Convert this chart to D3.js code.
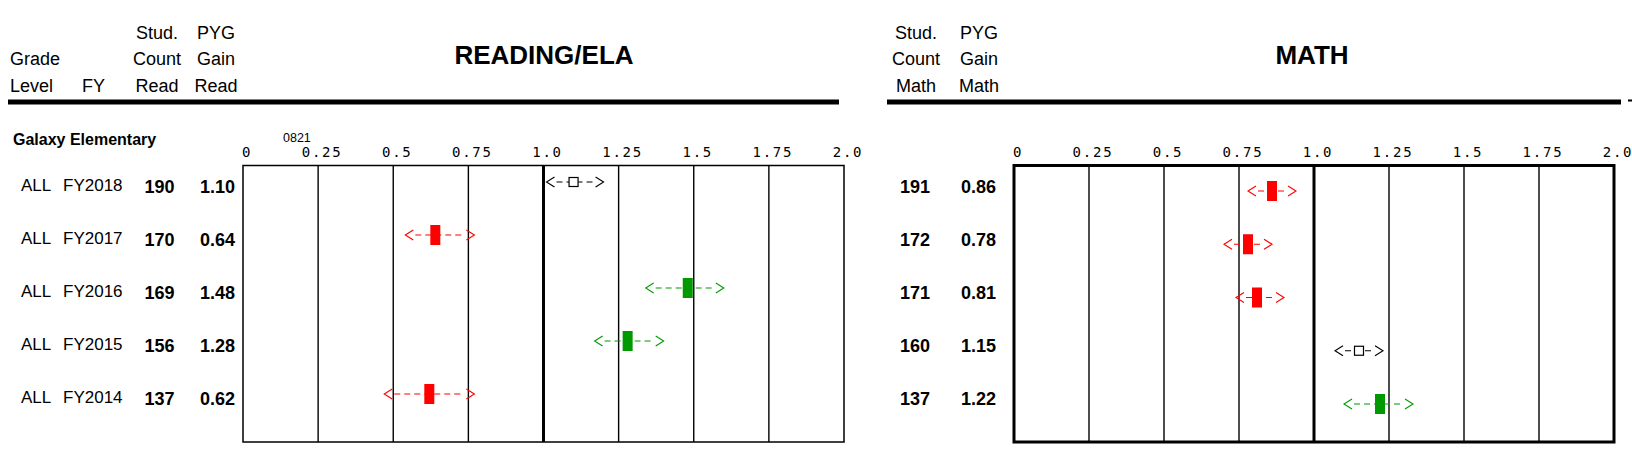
<!DOCTYPE html>
<html>
<head>
<meta charset="utf-8">
<script src="https://cdn.jsdelivr.net/npm/d3@7"></script>
<style>
  html, body { margin: 0; padding: 0; background: #fff; }
  svg { display: block; }
  text { font-family: "Liberation Sans", Arial, sans-serif; fill: #000; }
  .tick-label { font-family: "DejaVu Sans Mono", monospace; font-size: 14px; letter-spacing: 1.8px; }
</style>
</head>
<body>
<svg id="chart" width="1632" height="472"></svg>
<script>
// ---------- data ----------
const schoolName = "Galaxy Elementary";
const schoolCode = "0821";
const gradeLevels = ["ALL", "ALL", "ALL", "ALL", "ALL"];
const fiscalYears = ["FY2018", "FY2017", "FY2016", "FY2015", "FY2014"];

const readCounts = [190, 170, 169, 156, 137];
const readGain   = [1.10, 0.64, 1.48, 1.28, 0.62];
const readLow    = [1.01, 0.54, 1.34, 1.17, 0.47];
const readHigh   = [1.20, 0.77, 1.60, 1.40, 0.77];
const readStatus = ["neutral", "below", "above", "above", "below"];

const mathCounts = [191, 172, 171, 160, 137];
const mathGain   = [0.86, 0.78, 0.81, 1.15, 1.22];
const mathLow    = [0.78, 0.70, 0.74, 1.07, 1.10];
const mathHigh   = [0.94, 0.86, 0.90, 1.23, 1.33];
const mathStatus = ["below", "below", "below", "neutral", "above"];

const tickValues = [0, 0.25, 0.5, 0.75, 1.0, 1.25, 1.5, 1.75, 2.0];
const tickLabels = ["0", "0.25", "0.5", "0.75", "1.0", "1.25", "1.5", "1.75", "2.0"];

const statusColor = { below: "#ff0000", above: "#009900", neutral: "#000000" };

// ---------- layout ----------
const svg = d3.select("#chart");

const xRead = d3.scaleLinear().domain([0, 2]).range([243, 844]);
const xMath = d3.scaleLinear().domain([0, 2]).range([1014, 1614]);
const yReadMark = d3.scalePoint().domain(fiscalYears).range([182, 394]);
const yMathMark = d3.scalePoint().domain(fiscalYears).range([191, 404]);
const yText = d3.scalePoint().domain(fiscalYears).range([191, 403]);

// ---------- header ----------
function headerLines(x, lines, anchor) {
  const ys = [39, 65, 92];
  lines.forEach((t, i) => {
    if (!t) return;
    svg.append("text").attr("x", x).attr("y", ys[i + (3 - lines.length)])
      .attr("text-anchor", anchor).style("font-size", "18px").text(t);
  });
}
headerLines(10, ["Grade", "Level"], "start");
headerLines(82, ["FY"], "start");
headerLines(157, ["Stud.", "Count", "Read"], "middle");
headerLines(216, ["PYG", "Gain", "Read"], "middle");
headerLines(916, ["Stud.", "Count", "Math"], "middle");
headerLines(979, ["PYG", "Gain", "Math"], "middle");

svg.append("text").attr("x", 544).attr("y", 64).attr("text-anchor", "middle")
  .style("font-size", "26px").style("font-weight", "bold").text("READING/ELA");
svg.append("text").attr("x", 1312).attr("y", 64).attr("text-anchor", "middle")
  .style("font-size", "26px").style("font-weight", "bold").text("MATH");

svg.append("rect").attr("x", 8).attr("y", 99.5).attr("width", 831).attr("height", 5).attr("fill", "#000");
svg.append("rect").attr("x", 887).attr("y", 99.5).attr("width", 734).attr("height", 5).attr("fill", "#000");
svg.append("rect").attr("x", 1628).attr("y", 99.5).attr("width", 4).attr("height", 2).attr("fill", "#000");

svg.append("text").attr("x", 13).attr("y", 145).style("font-size", "16px")
  .style("font-weight", "bold").text(schoolName);
svg.append("text").attr("x", 283).attr("y", 142).style("font-size", "12.5px").text(schoolCode);

// ---------- panels ----------
function drawPanel(x, yMark, borderW, gain, low, high, status) {
  const g = svg.append("g");
  const top = 165.5, bottom = 442;
  // tick labels
  g.selectAll("text.tick-label").data(tickValues).join("text")
    .attr("class", "tick-label")
    .attr("x", d => x(d) + 4).attr("y", 156.5)
    .attr("text-anchor", "middle")
    .text((d, i) => tickLabels[i]);
  // grid lines
  g.selectAll("line.grid").data(tickValues.slice(1, -1)).join("line")
    .attr("class", "grid")
    .attr("x1", d => x(d)).attr("x2", d => x(d))
    .attr("y1", top).attr("y2", bottom)
    .attr("stroke", "#000")
    .attr("stroke-width", d => d === 1 ? 3 : 1.4);
  // frame
  g.append("rect")
    .attr("x", x(0)).attr("y", top)
    .attr("width", x(2) - x(0)).attr("height", bottom - top)
    .attr("fill", "none").attr("stroke", "#000").attr("stroke-width", borderW);

  // markers
  fiscalYears.forEach((fy, i) => {
    const y = yMark(fy);
    const c = statusColor[status[i]];
    const xl = x(low[i]), xh = x(high[i]), xv = x(gain[i]);
    const m = g.append("g");
    m.append("line").attr("x1", xl + 10).attr("x2", xh - 10)
      .attr("y1", y).attr("y2", y)
      .attr("stroke", c).attr("stroke-width", 1.2).attr("stroke-dasharray", "6,4");
    m.append("path").attr("d", `M${xl + 8},${y - 5}L${xl},${y}L${xl + 8},${y + 5}`)
      .attr("fill", "none").attr("stroke", c).attr("stroke-width", 1.1);
    m.append("path").attr("d", `M${xh - 8},${y - 5}L${xh},${y}L${xh - 8},${y + 5}`)
      .attr("fill", "none").attr("stroke", c).attr("stroke-width", 1.1);
    if (status[i] === "neutral") {
      m.append("rect").attr("x", xv - 4.5).attr("y", y - 4.5).attr("width", 9).attr("height", 9)
        .attr("fill", "#fff").attr("stroke", "#000").attr("stroke-width", 1.2);
    } else {
      m.append("rect").attr("x", xv - 5).attr("y", y - 10).attr("width", 10).attr("height", 20)
        .attr("fill", c);
    }
  });
}
drawPanel(xRead, yReadMark, 1.5, readGain, readLow, readHigh, readStatus);
drawPanel(xMath, yMathMark, 3, mathGain, mathLow, mathHigh, mathStatus);

// ---------- row text ----------
const fmt = d3.format(".2f");
fiscalYears.forEach((fy, i) => {
  const y = yText(fy);
  svg.append("text").attr("x", 21).attr("y", y).style("font-size", "17px").text(gradeLevels[i]);
  svg.append("text").attr("x", 63).attr("y", y).style("font-size", "17px").text(fy);
  svg.append("text").attr("x", 159.5).attr("y", y + 2).attr("text-anchor", "middle")
    .style("font-size", "18px").style("font-weight", "bold").text(readCounts[i]);
  svg.append("text").attr("x", 235).attr("y", y + 2).attr("text-anchor", "end")
    .style("font-size", "18px").style("font-weight", "bold").text(fmt(readGain[i]));
  svg.append("text").attr("x", 915).attr("y", y + 2).attr("text-anchor", "middle")
    .style("font-size", "18px").style("font-weight", "bold").text(mathCounts[i]);
  svg.append("text").attr("x", 996).attr("y", y + 2).attr("text-anchor", "end")
    .style("font-size", "18px").style("font-weight", "bold").text(fmt(mathGain[i]));
});
</script>
</body>
</html>
